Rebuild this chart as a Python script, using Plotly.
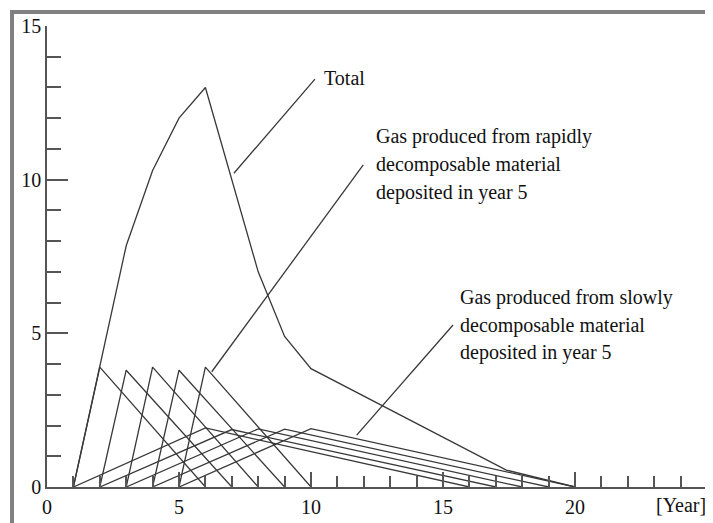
import plotly.graph_objects as go

# ---- data ----
deposit_years = [1, 2, 3, 4, 5]
rapid_peak_values = [3.9, 3.8, 3.9, 3.8, 3.9]
rapid_peak_delay = 1
rapid_duration = 5
slow_peak_values = [1.92, 1.87, 1.89, 1.88, 1.9]
slow_peak_delay = 5
slow_duration = 15

total_years = [1, 2, 3, 4, 5, 6, 7, 8, 9, 10, 17.4, 20]
total_values = [0, 3.95, 7.85, 10.3, 12.0, 13.0, 10.0, 7.0, 4.9, 3.85, 0.55, 0]

x_tick_vals = [0, 5, 10, 15, 20, 25]
x_tick_text = ["0", "5", "10", "15", "20", ""]
y_tick_vals = [0, 5, 10, 15]
y_tick_text = ["0", "5", "10", "15"]

label_total = "Total"
label_rapid = ["Gas produced from rapidly", "decomposable material", "deposited in year 5"]
label_slow = ["Gas produced from slowly", "decomposable material", "deposited in year 5"]
x_unit = "[Year]"

LINE = dict(color="#383838", width=1.3)
FONT = dict(family="Liberation Serif, Times New Roman, serif", size=20, color="#111111")

fig = go.Figure()

for d, p in zip(deposit_years, rapid_peak_values):
    fig.add_trace(go.Scatter(x=[d, d + rapid_peak_delay, d + rapid_duration], y=[0, p, 0],
                             mode="lines", line=LINE, showlegend=False, hoverinfo="skip"))
for d, p in zip(deposit_years, slow_peak_values):
    fig.add_trace(go.Scatter(x=[d, d + slow_peak_delay, d + slow_duration], y=[0, p, 0],
                             mode="lines", line=LINE, showlegend=False, hoverinfo="skip"))
fig.add_trace(go.Scatter(x=total_years, y=total_values, mode="lines", line=LINE,
                         showlegend=False, hoverinfo="skip"))

# leader lines for the labels
leaders = [((7.08, 10.21), (10.15, 13.27)),
           ((6.24, 3.75), (11.98, 10.48)),
           ((11.73, 1.69), (15.38, 5.27))]
shapes = []
for (x0, y0), (x1, y1) in leaders:
    shapes.append(dict(type="line", xref="x", yref="y", x0=x0, y0=y0, x1=x1, y1=y1, line=LINE))
# grey frame (top and left edges)
shapes.append(dict(type="line", xref="paper", yref="paper", x0=-0.053, x1=1.05, y0=1.0304, y1=1.0304,
                   line=dict(color="#808080", width=4)))
shapes.append(dict(type="line", xref="paper", yref="paper", x0=-0.053, x1=-0.053, y0=-0.1, y1=1.0347,
                   line=dict(color="#808080", width=4)))

annotations = [dict(x=10.40, y=13.31, text=label_total, xanchor="left", yanchor="middle",
                    showarrow=False, font=FONT)]
for t, yy in zip(label_rapid, [11.39, 10.48, 9.57]):
    annotations.append(dict(x=12.39, y=yy, text=t, xanchor="left", yanchor="middle",
                            showarrow=False, font=FONT))
for t, yy in zip(label_slow, [6.18, 5.27, 4.37]):
    annotations.append(dict(x=15.58, y=yy, text=t, xanchor="left", yanchor="middle",
                            showarrow=False, font=FONT))
# axis unit label (paper coords so it is not hidden outside the y range)
annotations.append(dict(x=(24.03 / 25), xref="paper", y=-18 / 461, yref="paper", text=x_unit,
                        xanchor="center", yanchor="middle", showarrow=False, font=FONT))

# the page body has an 8px default margin, so the figure is sized/margined to compensate
fig.update_layout(
    width=705, height=515,
    margin=dict(l=39, r=6, t=18, b=36, autoexpand=False),
    paper_bgcolor="white", plot_bgcolor="white",
    shapes=shapes, annotations=annotations,
    xaxis=dict(range=[0, 25], tickvals=x_tick_vals, ticktext=x_tick_text, automargin=False,
               ticks="inside", ticklen=15, tickwidth=1.5, tickcolor="#555555",
               showline=True, linecolor="#555555", linewidth=1.5,
               showgrid=False, zeroline=False, tickfont=FONT, ticklabelstandoff=1,
               minor=dict(dtick=1, tick0=0, ticks="inside", ticklen=11, tickwidth=1.5,
                          tickcolor="#555555", showgrid=False)),
    yaxis=dict(range=[0, 15], tickvals=y_tick_vals, ticktext=y_tick_text, automargin=False,
               ticks="inside", ticklen=21, tickwidth=1.5, tickcolor="#555555",
               showline=True, linecolor="#555555", linewidth=1.5,
               showgrid=False, zeroline=False, tickfont=FONT, ticklabelstandoff=0,
               minor=dict(dtick=1, tick0=0, ticks="inside", ticklen=14, tickwidth=1.5,
                          tickcolor="#555555", showgrid=False)),
)

fig.write_html("out.html")
